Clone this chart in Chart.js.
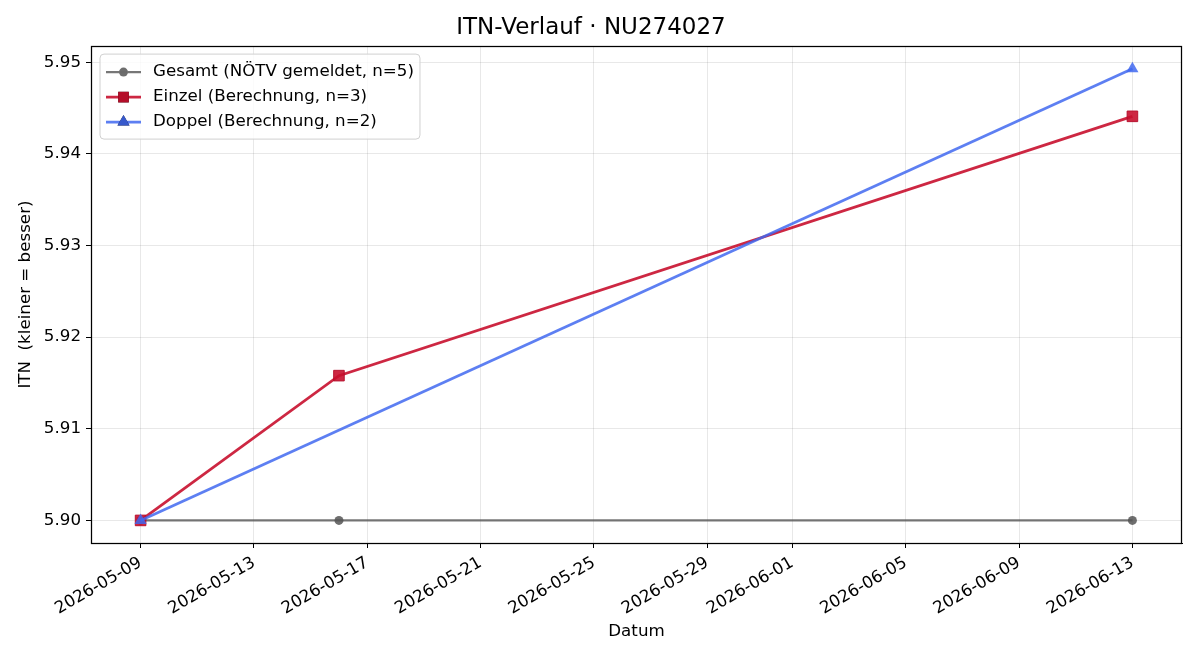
<!DOCTYPE html>
<html>
<head>
<meta charset="utf-8">
<script src="https://cdn.jsdelivr.net/npm/chart.js@4"></script>
<style>
  html, body { margin: 0; padding: 0; background: #fff; }
  #wrap { width: 1200px; height: 660px; }
</style>
</head>
<body>
<div id="wrap"><canvas id="itnChart" width="1200" height="660"></canvas></div>
<script>
// ITN history data
const gesamtDates = ['2026-05-09', '2026-05-16', '2026-06-13'];
const gesamtValues = [5.900, 5.900, 5.900];
const einzelDates = ['2026-05-09', '2026-05-16', '2026-06-13'];
const einzelValues = [5.900, 5.9158, 5.9441];
const doppelDates = ['2026-05-09', '2026-06-13'];
const doppelValues = [5.900, 5.9493];

const xTickDates = ['2026-05-09', '2026-05-13', '2026-05-17', '2026-05-21', '2026-05-25',
    '2026-05-29', '2026-06-01', '2026-06-05', '2026-06-09', '2026-06-13'];
const yTickValues = [5.90, 5.91, 5.92, 5.93, 5.94, 5.95];

const seriesLabels = [
    'Gesamt (NÖTV gemeldet, n=5)',
    'Einzel (Berechnung, n=3)',
    'Doppel (Berechnung, n=2)'
];

const DAY = 86400000;
const toDay = s => Date.parse(s + 'T00:00:00Z') / DAY;
const fromDay = d => new Date(Math.round(d) * DAY).toISOString().slice(0, 10);
const pts = (dates, vals) => dates.map((d, i) => ({ x: toDay(d), y: vals[i] }));

// matplotlib-like 5% margins
const allX = [...gesamtDates, ...einzelDates, ...doppelDates].map(toDay);
const allY = [...gesamtValues, ...einzelValues, ...doppelValues];
const xMin0 = Math.min(...allX), xMax0 = Math.max(...allX);
const yMin0 = Math.min(...allY), yMax0 = Math.max(...allY);
const xPad = (xMax0 - xMin0) * 0.05, yPad = (yMax0 - yMin0) * 0.05;

const FONT = 'DejaVu Sans, sans-serif';
const FS = 16.7;

const frameAndLegend = {
    id: 'frameAndLegend',
    afterDraw(chart) {
        const { ctx, chartArea: a } = chart;
        ctx.save();
        ctx.strokeStyle = '#000';
        ctx.lineWidth = 1.25;
        ctx.strokeRect(Math.round(a.left) + 0.5, Math.round(a.top) + 0.5,
            Math.round(a.right - a.left) - 1, Math.round(a.bottom - a.top));

        // legend box, upper left inside plot
        ctx.font = FS + 'px ' + FONT;
        const textW = Math.max(...seriesLabels.map(t => ctx.measureText(t).width));
        const bx = a.left + 9, by = a.top + 8;
        const bw = 53 + textW + 6, bh = 85;
        ctx.beginPath();
        ctx.roundRect(bx, by, bw, bh, 4);
        ctx.fillStyle = 'rgba(255,255,255,0.8)';
        ctx.fill();
        ctx.lineWidth = 1;
        ctx.strokeStyle = '#d0d0d0';
        ctx.stroke();

        chart.data.datasets.forEach((ds, i) => {
            const y = by + 18 + i * 25;
            ctx.strokeStyle = ds.borderColor;
            ctx.lineWidth = ds.borderWidth;
            ctx.beginPath();
            ctx.moveTo(bx + 6, y);
            ctx.lineTo(bx + 41, y);
            ctx.stroke();
            Chart.helpers.drawPoint(ctx, {
                pointStyle: ds.pointStyle, radius: ds.pointRadius, borderWidth: 0, rotation: 0
            }, bx + 23.5, y);
            ctx.fillStyle = ds.pointBackgroundColor;
            ctx.fill();
            ctx.fillStyle = '#000';
            ctx.textBaseline = 'middle';
            ctx.fillText(seriesLabels[i], bx + 53, y);
        });
        ctx.restore();
    }
};

new Chart(document.getElementById('itnChart'), {
    type: 'line',
    data: {
        datasets: [
            {
                label: seriesLabels[0],
                data: pts(gesamtDates, gesamtValues),
                borderColor: 'rgba(85,85,85,0.8)',
                pointBackgroundColor: 'rgba(85,85,85,0.85)',
                pointBorderWidth: 0,
                borderWidth: 2.2,
                pointStyle: 'circle',
                pointRadius: 4.5,
                order: 3
            },
            {
                label: seriesLabels[1],
                data: pts(einzelDates, einzelValues),
                borderColor: 'rgba(200,16,46,0.9)',
                pointBackgroundColor: 'rgba(200,16,46,0.9)',
                pointBorderColor: 'rgba(180,10,40,0.9)',
                pointBorderWidth: 1,
                borderWidth: 2.8,
                pointStyle: 'rect',
                pointRadius: 7.5,
                order: 2
            },
            {
                label: seriesLabels[2],
                data: pts(doppelDates, doppelValues),
                borderColor: 'rgba(65,105,240,0.85)',
                pointBackgroundColor: 'rgba(65,105,240,0.85)',
                pointBorderWidth: 0,
                borderWidth: 2.8,
                pointStyle: 'triangle',
                pointRadius: 7,
                order: 1
            }
        ]
    },
    options: {
        responsive: false,
        animation: false,
        layout: { padding: { left: 0, right: 18, top: 0, bottom: 0 } },
        plugins: {
            legend: { display: false },
            tooltip: { enabled: false },
            title: {
                display: true,
                text: 'ITN-Verlauf · NU274027',
                color: '#000',
                font: { family: FONT, size: 23, weight: 'normal' },
                padding: { top: 14, bottom: 4.5 }
            }
        },
        scales: {
            x: {
                type: 'linear',
                min: xMin0 - xPad,
                max: xMax0 + xPad,
                afterBuildTicks: s => { s.ticks = xTickDates.map(d => ({ value: toDay(d) })); },
                afterFit: s => { s.height = 117; },
                ticks: {
                    callback: v => fromDay(v),
                    minRotation: 30,
                    maxRotation: 30,
                    color: '#000',
                    padding: 5,
                    font: { family: FONT, size: FS }
                },
                grid: { color: 'rgba(0,0,0,0.09)', tickColor: '#000', tickLength: 5 },
                border: { color: '#000', width: 1 },
                title: {
                    display: true,
                    text: 'Datum',
                    color: '#000',
                    font: { family: FONT, size: FS },
                    padding: { top: 0, bottom: 18 }
                }
            },
            y: {
                min: yMin0 - yPad,
                max: yMax0 + yPad,
                afterBuildTicks: s => { s.ticks = yTickValues.map(v => ({ value: v })); },
                afterFit: s => { s.width = 91; },
                ticks: {
                    callback: v => v.toFixed(2),
                    color: '#000',
                    padding: 5,
                    font: { family: FONT, size: FS }
                },
                grid: { color: 'rgba(0,0,0,0.09)', tickColor: '#000', tickLength: 5 },
                border: { color: '#000', width: 1 },
                title: {
                    display: true,
                    text: 'ITN  (kleiner = besser)',
                    color: '#000',
                    font: { family: FONT, size: FS },
                    padding: { top: 16, bottom: 0 }
                }
            }
        }
    },
    plugins: [frameAndLegend]
});
</script>
</body>
</html>
